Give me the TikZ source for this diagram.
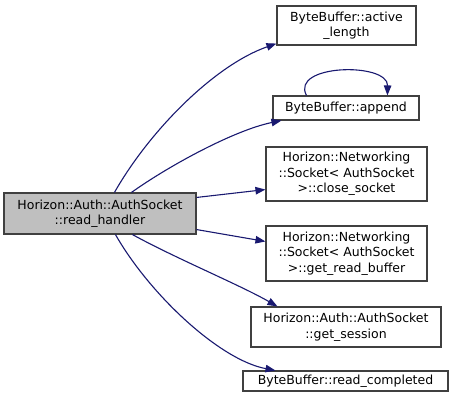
\documentclass[tikz,border=0pt]{standalone}
\usepackage{fontspec}
\setmainfont{DejaVu Sans}
\usetikzlibrary{arrows.meta,calc}
\definecolor{edgeblue}{HTML}{191970}
\definecolor{boxline}{HTML}{404040}
\definecolor{mainfill}{HTML}{BFBFBF}
\tikzset{
  fn/.style={draw=boxline, line width=1.1pt, fill=white, inner sep=0pt, align=center,
    font=\fontsize{12.5}{15.5}\selectfont},
  callee/.style={draw=edgeblue, line width=1.1pt, -{Triangle[length=10pt,width=7.5pt]}, fill=none},
}
\begin{document}
\begin{tikzpicture}[x=1pt,y=-1pt]
\useasboundingbox (0,0) rectangle (453,405);
\node[fn, fill=mainfill, minimum width=192pt, minimum height=41pt] (main) at (100,213.5)
  {Horizon::Auth::AuthSocket\\::read\_handler};
\node[fn, minimum width=139pt, minimum height=39pt] (active) at (346.5,25.5)
  {ByteBuffer::active\\\_length};
\node[fn, minimum width=146pt, minimum height=24pt] (append) at (346,108)
  {ByteBuffer::append};
\node[fn, minimum width=161pt, minimum height=54pt] (close) at (346.5,174)
  {Horizon::Networking\\::Socket< AuthSocket\\ >::close\_socket};
\node[fn, minimum width=161pt, minimum height=55pt] (readbuf) at (346.5,253.5)
  {Horizon::Networking\\::Socket< AuthSocket\\ >::get\_read\_buffer};
\node[fn, minimum width=190pt, minimum height=40pt] (session) at (346,327)
  {Horizon::Auth::AuthSocket\\::get\_session};
\node[fn, minimum width=205pt, minimum height=20pt] (readdone) at (345.5,381)
  {ByteBuffer::read\_completed};

\draw[callee] ($(main.north west)+(111,0)$) .. controls (150,130) and (215,65) .. ($(active.south west)+(0,-2)$);
\draw[callee] ($(main.north west)+(128,0)$) .. controls (170,165) and (235,130) .. ($(append.south west)+(9,0)$);
\draw[callee] ($(main.north east)+(0,5)$) -- ($(close.south west)+(0,-12)$);
\draw[callee] ($(main.south east)+(0,-5)$) -- ($(readbuf.north west)+(0,16)$);
\draw[callee] ($(main.south west)+(129,0)$) .. controls (175,258) and (240,285) .. ($(session.north west)+(27,0)$);
\draw[callee] ($(main.south west)+(112,0)$) .. controls (150,295) and (220,360) .. ($(readdone.north west)+(33,0)$);
\draw[callee] ($(append.north west)+(34,0)$) .. controls (290,64) and (388,62) .. ($(append.north west)+(115,0)$);
\end{tikzpicture}
\end{document}
